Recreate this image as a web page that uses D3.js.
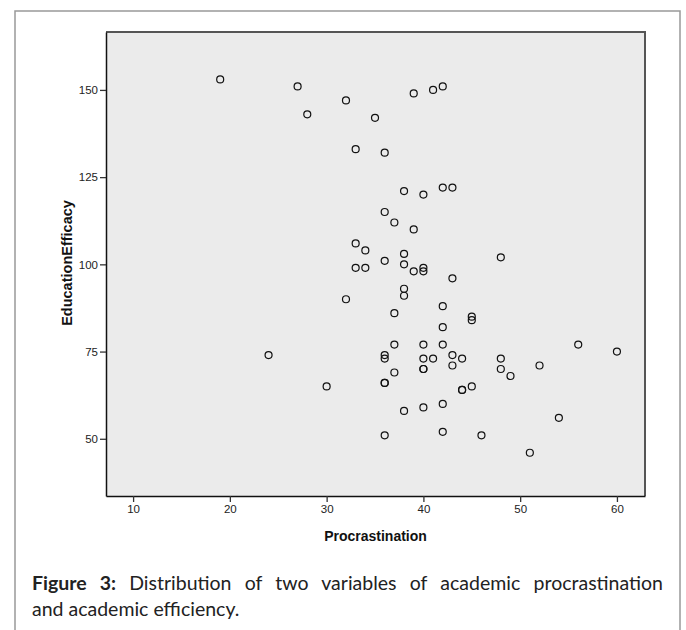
<!DOCTYPE html>
<html>
<head>
<meta charset="utf-8">
<script src="https://cdn.jsdelivr.net/npm/d3@7"></script>
<style>
  body { margin: 0; background: #fff; }
</style>
</head>
<body>
<div id="chart"></div>
<script>
// Procrastination (x) vs EducationEfficacy (y)
const procrastination = [19, 27, 28, 32, 33, 33, 39, 41, 42, 35, 36, 38, 40, 42, 43, 36, 37, 39, 34, 36, 38, 48,
  33, 34, 38, 39, 40, 40, 43, 38, 38, 32, 42, 45, 45, 37, 42, 37, 40, 42, 56, 60, 36, 36, 40, 41, 43, 44, 48,
  43, 52, 48, 49, 40, 40, 37, 36, 36, 44, 44, 45, 42, 40, 38, 54, 36, 42, 46, 51, 24, 30];
const efficacy = [153, 151, 143, 147, 133, 106, 149, 150, 151, 142, 132, 121, 120, 122, 122, 115, 112, 110, 104, 101, 103, 102,
  99, 99, 100, 98, 99, 98, 96, 93, 91, 90, 88, 85, 84, 86, 82, 77, 77, 77, 77, 75, 74, 73, 73, 73, 74, 73, 73,
  71, 71, 70, 68, 70, 70, 69, 66, 66, 64, 64, 65, 60, 59, 58, 56, 51, 52, 51, 46, 74, 65];

const xTicks = [10, 20, 30, 40, 50, 60];
const yTicks = [50, 75, 100, 125, 150];

const width = 686;
const height = 630;
const plot = { left: 106, top: 32, right: 645, bottom: 496 };
const axisFont = '"Liberation Sans", Arial, sans-serif';
const captionFont = 'Lato, "Open Sans", sans-serif';

const svg = d3.select('#chart')
  .append('svg')
  .attr('width', width)
  .attr('height', height);

// outer frame of the figure
svg.append('rect')
  .attr('x', 15).attr('y', 11)
  .attr('width', 665).attr('height', 640)
  .attr('fill', 'none')
  .attr('stroke', '#999')
  .attr('stroke-width', 1.5);

const xScale = d3.scaleLinear()
  .domain([7.2, 62.9])
  .range([plot.left, plot.right]);

const yScale = d3.scaleLinear()
  .domain([33.6, 166.6])
  .range([plot.bottom, plot.top]);

// plot background
svg.append('rect')
  .attr('x', plot.left).attr('y', plot.top)
  .attr('width', plot.right - plot.left)
  .attr('height', plot.bottom - plot.top)
  .attr('fill', '#ebebeb');

// top and right frame
svg.append('path')
  .attr('d', `M${plot.left},${plot.top}H${plot.right}V${plot.bottom}`)
  .attr('fill', 'none')
  .attr('stroke', '#555')
  .attr('stroke-width', 2);

// axes
const xAxis = svg.append('g')
  .attr('transform', `translate(0, ${plot.bottom})`)
  .call(d3.axisBottom(xScale).tickValues(xTicks).tickSize(6).tickSizeOuter(0).tickPadding(3));

const yAxis = svg.append('g')
  .attr('transform', `translate(${plot.left}, 0)`)
  .call(d3.axisLeft(yScale).tickValues(yTicks).tickSize(6).tickSizeOuter(0).tickPadding(2));

[xAxis, yAxis].forEach(ax => {
  ax.select('.domain').attr('stroke', '#111').attr('stroke-width', 1.5);
  ax.selectAll('.tick line').attr('stroke', '#333').attr('stroke-width', 1.3);
  ax.selectAll('.tick text')
    .attr('font-family', axisFont)
    .attr('font-size', 11.5)
    .attr('fill', '#222');
});

// axis titles
svg.append('text')
  .attr('x', (plot.left + plot.right) / 2)
  .attr('y', 541)
  .attr('text-anchor', 'middle')
  .attr('font-family', axisFont)
  .attr('font-size', 14)
  .attr('font-weight', 'bold')
  .attr('fill', '#111')
  .text('Procrastination');

svg.append('text')
  .attr('transform', 'rotate(-90)')
  .attr('x', -263)
  .attr('y', 72)
  .attr('text-anchor', 'middle')
  .attr('font-family', axisFont)
  .attr('font-size', 14.5)
  .attr('font-weight', 'bold')
  .attr('fill', '#111')
  .text('EducationEfficacy');

// points
svg.append('g')
  .selectAll('circle')
  .data(procrastination.map((p, i) => ({ p, e: efficacy[i] })))
  .enter()
  .append('circle')
  .attr('cx', d => xScale(d.p))
  .attr('cy', d => yScale(d.e))
  .attr('r', 3.5)
  .attr('fill', 'none')
  .attr('stroke', '#111')
  .attr('stroke-width', 1.2);

// caption; first line justified by widening the word gaps
const line1 = svg.append('text')
  .attr('x', 32)
  .attr('y', 590)
  .attr('font-family', captionFont)
  .attr('font-size', 19.5)
  .attr('fill', '#222');
line1.append('tspan').attr('font-weight', 'bold').text('Figure 3:');
line1.append('tspan').text(' Distribution of two variables of academic procrastination');

const natural = line1.node().getComputedTextLength();
const gaps = 8;
line1.attr('word-spacing', Math.max(0, (631 - natural) / gaps));

svg.append('text')
  .attr('x', 32)
  .attr('y', 616)
  .attr('font-family', captionFont)
  .attr('font-size', 19.5)
  .attr('fill', '#222')
  .text('and academic efficiency.');
</script>
</body>
</html>
